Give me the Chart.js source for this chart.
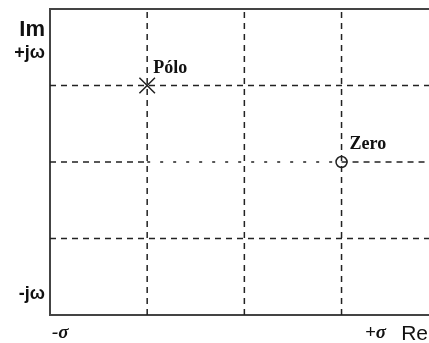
<!DOCTYPE html>
<html>
<head>
<meta charset="utf-8">
<script src="https://cdn.jsdelivr.net/npm/chart.js@4/dist/chart.umd.min.js"></script>
<style>
  html, body { margin: 0; padding: 0; background: #fff; overflow: hidden; }
</style>
</head>
<body>
<canvas id="grafico" width="429" height="343"></canvas>
<script>
// plano s: grade 4x4, lado direito cortado
const xMax = 3.9;
const yMax = 4;
const gradeX = [1, 2, 3];
const gradeY = [1, 3];
const linhaMeioY = 2;
const linhaMeioX = [0, 1, 3, xMax];

const polos = [{ x: 1, y: 3 }];
const zeros = [{ x: 3, y: 2 }];
const rotulos = ['Pólo', 'Zero'];

const yTicks = [3.72, 3.43, 0.27];
const yLabels = ['Im', '+j\u03c9', '-j\u03c9'];
const xTicks = [0.02, 3.35, 3.89];
const xLabels = ['-\u03c3', '+\u03c3', 'Re'];

const corLinha = '#222';
const tracejado = [6, 5];
const pontilhado = [3, 10];

const datasets = [];
gradeX.forEach(x => {
    datasets.push({
        data: [{ x: x, y: 0 }, { x: x, y: yMax }],
        showLine: true, pointRadius: 0, borderColor: corLinha, borderWidth: 1.5,
        borderDash: tracejado
    });
});
gradeY.forEach(y => {
    datasets.push({
        data: [{ x: 0, y: y }, { x: xMax, y: y }],
        showLine: true, pointRadius: 0, borderColor: corLinha, borderWidth: 1.5,
        borderDash: tracejado
    });
});
datasets.push({
    data: linhaMeioX.map(x => ({ x: x, y: linhaMeioY })),
    showLine: true, pointRadius: 0, borderColor: corLinha, borderWidth: 1.5,
    segment: {
        borderDash: ctx => ctx.p0DataIndex === 1 ? pontilhado : tracejado
    }
});
datasets.push({
    data: polos, pointStyle: 'crossRot', pointRadius: 11,
    borderColor: corLinha, borderWidth: 1.5
});
datasets.push({
    data: zeros, pointStyle: 'circle', pointRadius: 5.5,
    backgroundColor: '#fff', borderColor: corLinha, borderWidth: 1.5
});

const rotuloPlugin = {
    id: 'rotulos',
    afterDatasetsDraw(chart) {
        const c = chart.ctx;
        const sx = chart.scales.x, sy = chart.scales.y;
        const pts = [polos[0], zeros[0]];
        const dx = [6, 8];
        c.save();
        c.fillStyle = '#111';
        c.font = 'bold 18px "Liberation Serif"';
        c.textBaseline = 'alphabetic';
        pts.forEach((p, i) => {
            c.fillText(rotulos[i], sx.getPixelForValue(p.x) + dx[i], sy.getPixelForValue(p.y) - 13);
        });
        c.restore();
    }
};

const semPadding = s => { s.paddingLeft = 0; s.paddingRight = 0; };

const ctx = document.getElementById('grafico').getContext('2d');
new Chart(ctx, {
    type: 'scatter',
    data: { datasets: datasets },
    plugins: [rotuloPlugin],
    options: {
        responsive: false,
        animation: false,
        layout: { padding: 0, autoPadding: false },
        plugins: { legend: { display: false }, tooltip: { enabled: false } },
        scales: {
            x: {
                type: 'linear', min: 0, max: xMax,
                afterBuildTicks: s => { s.ticks = xTicks.map(v => ({ value: v })); },
                afterFit: s => { s.height = 28; semPadding(s); },
                grid: { display: false, drawTicks: false },
                border: { display: true, color: '#444', width: 2 },
                ticks: {
                    autoSkip: false, maxRotation: 0, align: 'inner', padding: 7, color: '#111',
                    callback: (v, i) => xLabels[i],
                    font: c => c.index === 2
                        ? { family: 'Liberation Sans', size: 21 }
                        : { family: 'Liberation Serif', size: 19, weight: 'bold', style: 'italic' }
                }
            },
            xTopo: {
                type: 'linear', position: 'top', min: 0, max: xMax,
                afterFit: s => { s.height = 9; semPadding(s); },
                grid: { display: false, drawTicks: false },
                border: { display: true, color: '#444', width: 2 },
                ticks: { display: false }
            },
            y: {
                type: 'linear', min: 0, max: yMax,
                afterBuildTicks: s => { s.ticks = yTicks.map(v => ({ value: v })); },
                afterFit: s => { s.width = 50; s.paddingTop = 0; s.paddingBottom = 0; },
                grid: { display: false, drawTicks: false },
                border: { display: true, color: '#444', width: 2 },
                ticks: {
                    autoSkip: false, padding: 5, color: '#111',
                    callback: (v, i) => yLabels[i],
                    font: c => c.index === 0
                        ? { family: 'Liberation Sans', size: 22, weight: 'bold' }
                        : { family: 'Liberation Sans', size: 18, weight: 'bold' }
                }
            }
        }
    }
});
</script>
</body>
</html>
